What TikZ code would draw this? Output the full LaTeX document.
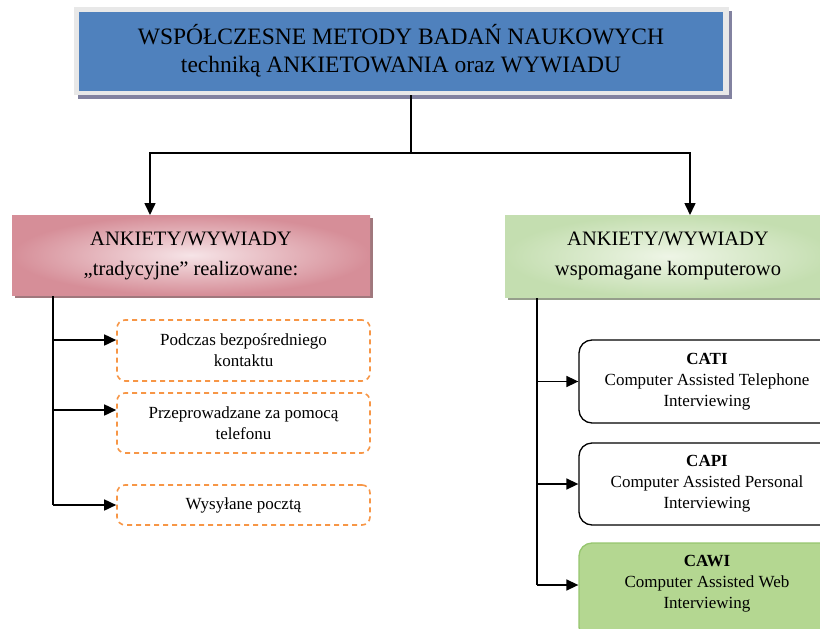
\documentclass[tikz,border=0pt]{standalone}
\usepackage{fontspec}
\setmainfont{Liberation Serif}
\usetikzlibrary{arrows.meta}
\definecolor{titleblue}{RGB}{79,129,189}
\definecolor{framegray}{RGB}{232,232,232}
\definecolor{shadowgray}{RGB}{130,130,160}
\definecolor{pinkdark}{RGB}{214,142,152}
\definecolor{pinklight}{RGB}{246,228,231}
\definecolor{pinkshadow}{RGB}{160,120,125}
\definecolor{greendark}{RGB}{196,222,176}
\definecolor{greenlight}{RGB}{238,245,230}
\definecolor{greenshadow}{RGB}{150,158,140}
\definecolor{dashorange}{RGB}{247,150,70}
\definecolor{cawifill}{RGB}{180,215,145}
\definecolor{cawiborder}{RGB}{150,198,110}
\tikzset{
  arr/.style={line width=1.6pt,-{Triangle[length=12pt,width=11pt]}},
  ln/.style={line width=1.6pt},
  dashbox/.style={draw=dashorange,line width=1.6pt,dash pattern=on 5pt off 4pt,rounded corners=8pt,fill=white},
  cabox/.style={draw=black,line width=1.3pt,rounded corners=13pt,fill=white},
  smalltxt/.style={align=center,font=\fontsize{17}{21}\selectfont},
  subtxt/.style={align=center,font=\fontsize{20.5}{30}\selectfont},
}
\begin{document}
\begin{tikzpicture}[x=1pt,y=-1pt]
\useasboundingbox (0,0) rectangle (820,629);
\clip (0,0) rectangle (820,629);
% title
\fill[shadowgray] (78,11) rectangle (732,99);
\fill[framegray] (74,7) rectangle (729,95);
\fill[titleblue] (79,12) rectangle (723,91);
\node[align=center,font=\fontsize{23.5}{28}\selectfont] (title) at (401,51)
  {WSPÓŁCZESNE METODY BADAŃ NAUKOWYCH\\techniką ANKIETOWANIA oraz WYWIADU};
\coordinate (ttop) at (411,95);
\coordinate (j) at (411,153);
\coordinate (lt) at (150,215);
\coordinate (rt) at (690,215);
% left category box
\fill[pinkshadow] (15,218) rectangle (373,298);
\shade[inner color=pinklight,outer color=pinkdark] (12,215) rectangle (370,295);
\node[subtxt] (left) at (191,256) {ANKIETY/WYWIADY\\„tradycyjne” realizowane:};
% right category box
\fill[greenshadow] (508,218) rectangle (835,300);
\shade[inner color=greenlight,outer color=greendark] (505,215) rectangle (832,297);
\node[subtxt] (right) at (668,256) {ANKIETY/WYWIADY\\wspomagane komputerowo};
% main connectors
\draw[ln] (ttop) -- (j);
\draw[arr] (j) -- (j -| lt) -- (lt);
\draw[arr] (j) -- (j -| rt) -- (rt);
% left items
\node[dashbox,minimum width=253pt,minimum height=61pt,smalltxt] (b1) at (243.5,350.5) {Podczas bezpośredniego\\kontaktu};
\node[dashbox,minimum width=253pt,minimum height=60pt,smalltxt] (b2) at (243.5,423) {Przeprowadzane za pomocą\\telefonu};
\node[dashbox,minimum width=253pt,minimum height=40pt,smalltxt] (b3) at (243.5,505) {Wysyłane pocztą};
\coordinate (ls) at (53,296);
\coordinate (l1) at (53,340);
\coordinate (l2) at (53,410);
\coordinate (l3) at (53,505);
\draw[ln] (ls) -- (l3);
\draw[arr] (l1) -- (l1 -| b1.west);
\draw[arr] (l2) -- (l2 -| b2.west);
\draw[arr] (l3) -- (b3.west);
% right items
\node[cabox,minimum width=256pt,minimum height=83pt,smalltxt] (cati) at (707,381.5) {\textbf{CATI}\\Computer Assisted Telephone\\Interviewing};
\node[cabox,minimum width=256pt,minimum height=82pt,smalltxt] (capi) at (707,484) {\textbf{CAPI}\\Computer Assisted Personal\\Interviewing};
\node[cabox,draw=cawiborder,fill=cawifill,minimum width=256pt,minimum height=97pt,smalltxt] (cawi) at (707,591.5) {};
\node[smalltxt] (cawit) at (707,584) {\textbf{CAWI}\\Computer Assisted Web\\Interviewing};
\coordinate (rs) at (537,298);
\coordinate (r3) at (537,585);
\draw[ln] (rs) -- (r3);
\draw[arr] (rs |- cati.west) -- (cati.west);
\draw[arr] (rs |- capi.west) -- (capi.west);
\draw[arr] (r3) -- (r3 -| cawi.west);
\end{tikzpicture}
\end{document}
